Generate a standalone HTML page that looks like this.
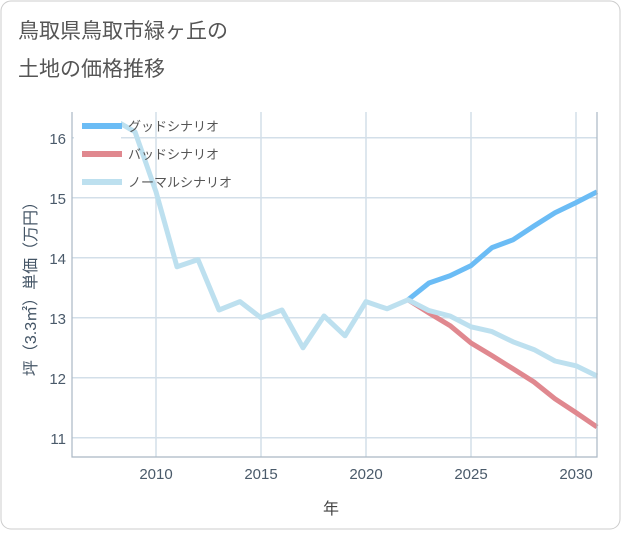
<!DOCTYPE html>
<html><head><meta charset="utf-8"><style>
body{margin:0;background:#fff;}
svg text{font-family:"Liberation Sans","Noto Sans CJK JP",sans-serif;}
</style></head><body>
<svg id="c" width="621" height="530" viewBox="0 0 621 530">
<rect x="1" y="1" width="619" height="528" rx="10" fill="#fff" stroke="#ccc"/>
<text x="18" y="38" font-size="21" fill="#555">鳥取県鳥取市緑ヶ丘の</text>
<text x="18" y="76" font-size="21" fill="#555">土地の価格推移</text>
<g id="grid"></g><g id="series"></g><g id="axes"></g>
<text x="331" y="514" font-size="16" fill="#444" text-anchor="middle">年</text>
<text transform="translate(36,285) rotate(-90)" font-size="16" fill="#445566" text-anchor="middle">坪（3.3㎡）単価（万円）</text>
<rect x="74" y="113" width="47" height="82" fill="#fff"/>
<g id="legend"></g>
</svg>
<script>
const xTicks=[2010,2015,2020,2025,2030];
const yTicks=[11,12,13,14,15,16];
const normalYears=[2008,2009,2010,2011,2012,2013,2014,2015,2016,2017,2018,2019,2020,2021,2022,2023,2024,2025,2026,2027,2028,2029,2030,2031];
const normalVals=[16.3,16.1,15.1,13.85,13.97,13.13,13.27,13.0,13.13,12.5,13.03,12.7,13.27,13.15,13.3,13.12,13.03,12.85,12.77,12.6,12.47,12.28,12.2,12.03];
const futureYears=[2022,2023,2024,2025,2026,2027,2028,2029,2030,2031];
const goodVals=[13.3,13.58,13.7,13.87,14.17,14.3,14.53,14.75,14.92,15.1];
const badVals=[13.3,13.08,12.87,12.58,12.37,12.15,11.93,11.65,11.42,11.18];
const X0=72,X1=597,Y0=112,Y1=457,xmin=2006,xmax=2031,ymin=10.68,ymax=16.43;
const sx=v=>X0+(v-xmin)/(xmax-xmin)*(X1-X0);
const sy=v=>Y1-(v-ymin)/(ymax-ymin)*(Y1-Y0);
const NS="http://www.w3.org/2000/svg";
function mk(t,a,p){const e=document.createElementNS(NS,t);for(const k in a)e.setAttribute(k,a[k]);p.appendChild(e);return e;}
const grid=document.getElementById('grid'),axes=document.getElementById('axes'),ser=document.getElementById('series'),leg=document.getElementById('legend');
xTicks.forEach(t=>{const l=mk('line',{x1:sx(t),x2:sx(t),y1:Y0,y2:Y1,stroke:'#d3dfe9','stroke-width':1.5},grid);

const tx=mk('text',{x:sx(t),y:479,'font-size':15,fill:'#4a5a6a','text-anchor':'middle'},axes);tx.textContent=t;
});
yTicks.forEach(t=>{const l=mk('line',{x1:X0,x2:X1,y1:sy(t),y2:sy(t),stroke:'#d3dfe9','stroke-width':1.5},grid);

const tx=mk('text',{x:66,y:sy(t)+6,'font-size':15,fill:'#4a5a6a','text-anchor':'end'},axes);tx.textContent=t;
});
const ax=mk('path',{d:`M${X0} ${Y0}V${Y1}H${X1}V${Y0}`,fill:'none',stroke:'#aab8c4','stroke-width':1.2},axes);

function line(xs,ys,col,name){const d=xs.map((x,i)=>(i?'L':'M')+sx(x)+' '+sy(ys[i])).join('');
const p=mk('path',{d,fill:'none',stroke:col,'stroke-width':5,'stroke-linejoin':'round'},ser);
}
line(futureYears,goodVals,'#6bbcf5','good-scenario-line');
line(futureYears,badVals,'#e0888f','bad-scenario-line');
line(normalYears,normalVals,'#bde0ef','normal-scenario-line');
[['グッドシナリオ','#6bbcf5'],['バッドシナリオ','#e0888f'],['ノーマルシナリオ','#bde0ef']].forEach((e,i)=>{
const y=126+i*28;
const r=mk('rect',{x:82,y:y-3,width:40,height:6,fill:e[1]},leg);

const t=mk('text',{x:128,y:y+5,'font-size':13,fill:'#555'},leg);t.textContent=e[0];
});
</script>
</body></html>
